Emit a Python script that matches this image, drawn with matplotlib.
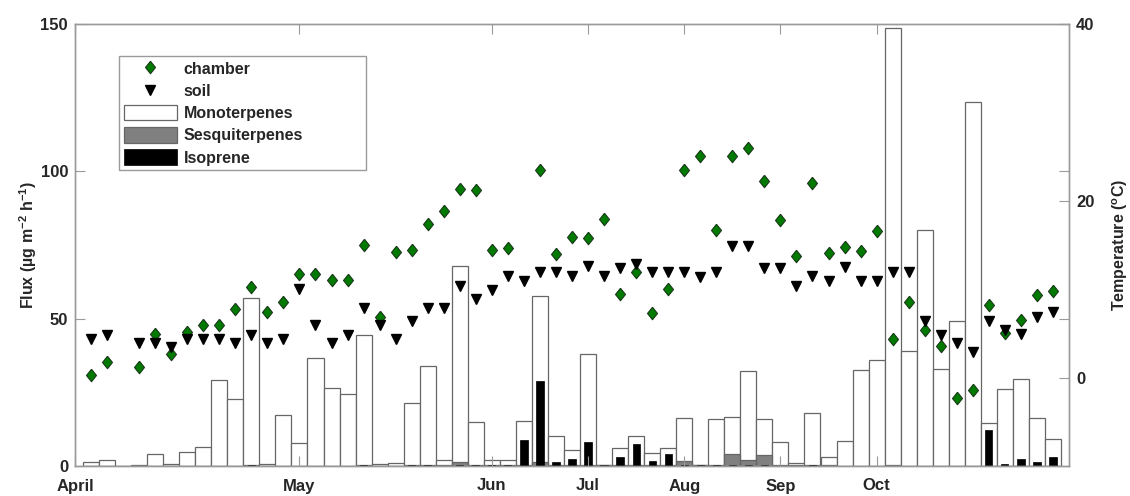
import numpy as np
import matplotlib
matplotlib.use("Agg")
import matplotlib.pyplot as plt

plt.rcParams['font.family'] = ['Liberation Sans', 'DejaVu Sans']
plt.rcParams['font.weight'] = 'bold'
plt.rcParams['axes.labelweight'] = 'bold'
plt.rcParams['mathtext.fontset'] = 'custom'
plt.rcParams['mathtext.rm'] = 'Liberation Sans:bold'
plt.rcParams['mathtext.it'] = 'Liberation Sans:bold'
plt.rcParams['mathtext.bf'] = 'Liberation Sans:bold'

# sample index 1..61
mono = [1.5, 2.0, 0, 0.3, 4.0, 0.6, 4.6, 6.4, 29.1, 22.6,
        57.1, 0.7, 17.3, 7.7, 36.8, 26.4, 24.4, 44.6, 0.7, 0.9,
        21.3, 33.8, 1.9, 68.0, 14.8, 1.9, 1.9, 15.3, 57.8, 10.1,
        5.3, 37.9, 0.5, 6.2, 10.1, 4.4, 6.1, 16.4, 0.4, 15.8,
        16.5, 32.2, 15.9, 8.0, 1.0, 18.0, 3.1, 8.4, 32.7, 35.9,
        148.8, 39.0, 80.1, 32.8, 49.2, 123.4, 14.5, 26.0, 29.5, 16.2,
        9.1]
sesq = [0, 0, 0, 0, 0, 0, 0, 0, 0, 0,
        0.3, 0, 0, 0, 0, 0, 0, 0.2, 0, 0,
        0.2, 0.2, 0.5, 1.3, 0.2, 0.2, 0.2, 0.3, 1.5, 0.2,
        0.2, 0.2, 0.2, 0.2, 0.2, 0.2, 0.3, 1.7, 0.2, 0.5,
        4.1, 2.0, 3.6, 0.3, 0.2, 0.2, 0.2, 0, 0, 0,
        0.2, 0, 0, 0, 0, 0, 0, 0, 0, 0,
        0]
iso = [0, 0, 0, 0, 0, 0, 0, 0, 0, 0,
       0.3, 0, 0, 0, 0, 0, 0, 0.3, 0, 0,
       0.3, 0.3, 0, 0.3, 0.3, 0.3, 0.3, 8.7, 28.7, 1.2,
       2.4, 8.3, 0.3, 3.2, 7.6, 1.6, 4.2, 0.3, 0.3, 0.3,
       0.3, 0.3, 0.3, 0, 0, 0.3, 0, 0, 0, 0,
       0, 0, 0, 0, 0, 0, 12.3, 0.8, 2.5, 1.2,
       2.9]
nan = np.nan
chamber = [0.3, 1.8, nan, 1.25, 4.9, 2.7, 5.2, 5.9, 5.9, 7.8,
           10.3, 7.4, 8.6, 11.7, 11.7, 11.0, 11.0, 15.0, 6.8, 14.2,
           14.4, 17.35, 18.8, 21.3, 21.2, 14.4, 14.7, nan, 23.5, 14.0,
           15.9, 15.8, 17.9, 9.5, 11.9, 7.3, 10.0, 23.5, 25.1, 16.7,
           25.1, 26.0, 22.2, 17.85, 13.8, 22.0, 14.1, 14.8, 14.3, 16.6,
           4.4, 8.6, 5.4, 3.6, -2.3, -1.4, 8.2, 5.0, 6.55, 9.3,
           9.8]
soil = [4.4, 4.85, nan, 3.9, 3.9, 3.45, 4.4, 4.4, 4.4, 3.9,
        4.85, 3.9, 4.4, 10.0, 5.9, 3.9, 4.85, 7.9, 6.0, 4.4,
        6.4, 7.9, 7.9, 10.4, 8.9, 9.9, 11.5, 10.9, 11.9, 11.9,
        11.5, 12.6, 11.5, 12.4, 12.9, 11.9, 11.9, 11.9, 11.4, 11.9,
        14.85, 14.85, 12.4, 12.4, 10.4, 11.5, 10.9, 12.5, 10.9, 10.9,
        11.9, 11.9, 6.4, 4.85, 3.9, 2.9, 6.4, 5.35, 4.9, 6.9,
        7.4]
month_pos = [0, 14, 26, 32, 38, 44, 50]
month_lab = ["April", "May", "Jun", "Jul", "Aug", "Sep", "Oct"]

x = np.arange(1, len(mono) + 1)
txt = '#262626'
axc = '#9a9a9a'

fig = plt.figure(figsize=(11.3, 4.96), dpi=100)
ax = fig.add_axes([75 / 1130, 30 / 496, 994 / 1130, 442 / 496])
ax2 = ax.twinx()

b1 = ax.bar(x, mono, width=1, color='white', edgecolor='#666666', linewidth=0.9, label='Monoterpenes')
b2 = ax.bar(x, sesq, width=1, color='#808080', edgecolor='#666666', linewidth=0.9, label='Sesquiterpenes')
b3 = ax.bar(x, iso, width=0.45, color='black', edgecolor='black', linewidth=0.5, label='Isoprene')

diam = [(0, 1), (0.8, 0), (0, -1), (-0.8, 0), (0, 1)]
l1, = ax2.plot(x, chamber, linestyle='none', marker=diam, markersize=9, markerfacecolor='#007a00',
               markeredgecolor='#1a3a1a', markeredgewidth=0.8, label='chamber')
l2, = ax2.plot(x, soil, linestyle='none', marker='v', markersize=7.5, color='black', label='soil')

ax.set_xlim(0, 62)
ax.set_ylim(0, 150)
ax2.set_ylim(-10, 40)
ax.set_yticks([0, 50, 100, 150])
ax2.set_yticks([0, 20, 40])
ax.set_xticks(month_pos)
ax.set_xticklabels(month_lab)

ax.tick_params(axis='x', direction='in', length=7, top=True, bottom=True, pad=9,
               labelsize=12, colors=axc, labelcolor=txt)
ax.tick_params(axis='y', direction='in', length=7, left=True, right=True, pad=5,
               labelsize=12, colors=axc, labelcolor=txt)
ax2.tick_params(axis='y', direction='in', length=7, pad=5, labelsize=12, colors=axc, labelcolor=txt)
for a in (ax, ax2):
    for s in a.spines.values():
        s.set_color(axc)
        s.set_linewidth(1)

ax.set_ylabel(r'Flux (µg m$^{-2}$ h$^{-1}$)', fontsize=11.5, color=txt)
ax.yaxis.set_label_coords(-0.036, 0.5)
ax2.set_ylabel(r'Temperature ($^{\rm o}$C)', fontsize=11.5, color=txt)
ax2.yaxis.set_label_coords(1.042, 0.5)

leg = ax.legend([l1, l2, b1, b2, b3], ['chamber', 'soil', 'Monoterpenes', 'Sesquiterpenes', 'Isoprene'],
                loc='upper left', bbox_to_anchor=(44 / 994, 1 - 32 / 442, 247 / 994, 0), mode='expand',
                fontsize=11.5, handlelength=3.3, handleheight=1.1, handletextpad=0.45,
                labelspacing=0.38, borderpad=0.3, borderaxespad=0, fancybox=False,
                edgecolor=axc, framealpha=1)
leg.get_frame().set_linewidth(1)
for t in leg.get_texts():
    t.set_color(txt)
leg.remove()
ax2.add_artist(leg)

fig.savefig('out.png', dpi=100)
